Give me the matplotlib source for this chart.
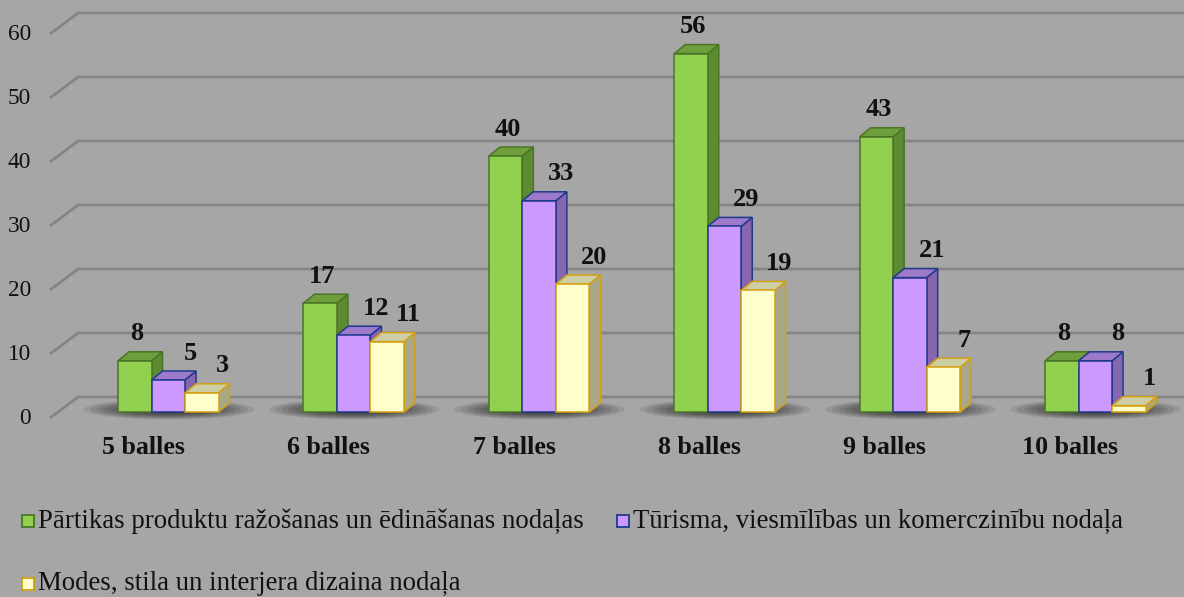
import numpy as np
import matplotlib.pyplot as plt
from matplotlib.patches import Polygon, Rectangle, Ellipse

categories = ['5 balles', '6 balles', '7 balles', '8 balles', '9 balles', '10 balles']
partikas = [8, 17, 40, 56, 43, 8]
turisma = [5, 12, 33, 29, 21, 8]
modes = [3, 11, 20, 19, 7, 1]
series_names = ['Pārtikas produktu ražošanas un ēdināšanas nodaļas',
                'Tūrisma, viesmīlības un komerczinību nodaļa',
                'Modes, stila un interjera dizaina nodaļa']
y_ticks = [0, 10, 20, 30, 40, 50, 60]

# front, top, side, edge
styles = [('#92D050', '#6F9E3C', '#5E8A32', '#4A7526'),
          ('#CC99FF', '#9C7AC9', '#8766B0', '#1F3A8C'),
          ('#FFFFCC', '#CDCDA6', '#A8A889', '#D4A012')]
label_shift_px = [2, 22, 21]

plt.rc('font', family=['Liberation Serif', 'DejaVu Serif'])

W, H = 1184, 597
px_x = 185.4   # pixels per category
px_y = 6.4     # pixels per value unit
x0_px = 168.3
y0_px = 412.0

bw = 33.5 / px_x
dx = 11.0 / px_x
dy = 9.0 / px_y

fig = plt.figure(figsize=(W / 100, H / 100), dpi=100, facecolor='#A6A6A6')
ax = fig.add_axes([0, 0, 1, 1])
ax.set_facecolor('#A6A6A6')
ax.set_xlim(-x0_px / px_x, (W - x0_px) / px_x)
ax.set_ylim(-(H - y0_px) / px_y, y0_px / px_y)
ax.axis('off')

def px2x(p):
    return (p - x0_px) / px_x

# back wall gridlines with slanted left edge
for v in y_ticks:
    ax.plot([px2x(50), px2x(78), px2x(W + 5)],
            [v - 6 / px_y, v + 15 / px_y, v + 15 / px_y],
            color='#858585', lw=2.0, solid_capstyle='butt', zorder=1)
    ax.text(px2x(31), v - 6 / px_y, str(v), ha='right', va='center',
            fontsize=16.8, color='#111111')

# floor shadows
for i in range(len(categories)):
    cx = i + dx / 2 - 0.15 * bw
    for k in range(12):
        f = 1 - k / 13
        ax.add_patch(Ellipse((cx, 0.4), (3 * bw + 70 / px_x) * f,
                             (20 / px_y) * f, color='black', alpha=0.09,
                             lw=0, zorder=2))

series = [partikas, turisma, modes]
for i in range(len(categories)):
    for s, vals in enumerate(series):
        v = vals[i]
        front, top, side, edge = styles[s]
        x = i + (s - 1.5) * bw
        z = 3 + s
        ax.add_patch(Polygon([(x + bw, 0), (x + bw + dx, dy), (x + bw + dx, v + dy), (x + bw, v)],
                             closed=True, facecolor=side, edgecolor=edge, lw=1.1, zorder=z))
        ax.add_patch(Polygon([(x, v), (x + dx, v + dy), (x + bw + dx, v + dy), (x + bw, v)],
                             closed=True, facecolor=top, edgecolor=edge, lw=1.1, zorder=z))
        ax.add_patch(Rectangle((x, 0), bw, v, facecolor=front, edgecolor=edge, lw=1.1, zorder=z))
        ax.text(x + bw / 2 + label_shift_px[s] / px_x, v + 27 / px_y, str(v),
                ha='center', va='center', fontsize=19, fontweight='bold',
                color='#111111', zorder=10)
    ax.text(i - 25 / px_x, -35 / px_y, categories[i], ha='center', va='center',
            fontsize=18.7, fontweight='bold', color='#111111')

# legend
legend_pos = [(22, 521), (617, 521), (22, 584)]
for s, (lx, ly) in enumerate(legend_pos):
    front, top, side, edge = styles[s]
    ax.add_patch(Rectangle((lx / W, 1 - (ly + 6) / H), 12 / W, 12 / H,
                           transform=ax.transAxes, facecolor=front,
                           edgecolor=edge, lw=1.3, zorder=5))
    ax.text((lx + 16) / W, 1 - ly / H, series_names[s], transform=ax.transAxes,
            ha='left', va='center', fontsize=19.3, color='#111111')

fig.savefig('out.png', dpi=100, facecolor=fig.get_facecolor())
